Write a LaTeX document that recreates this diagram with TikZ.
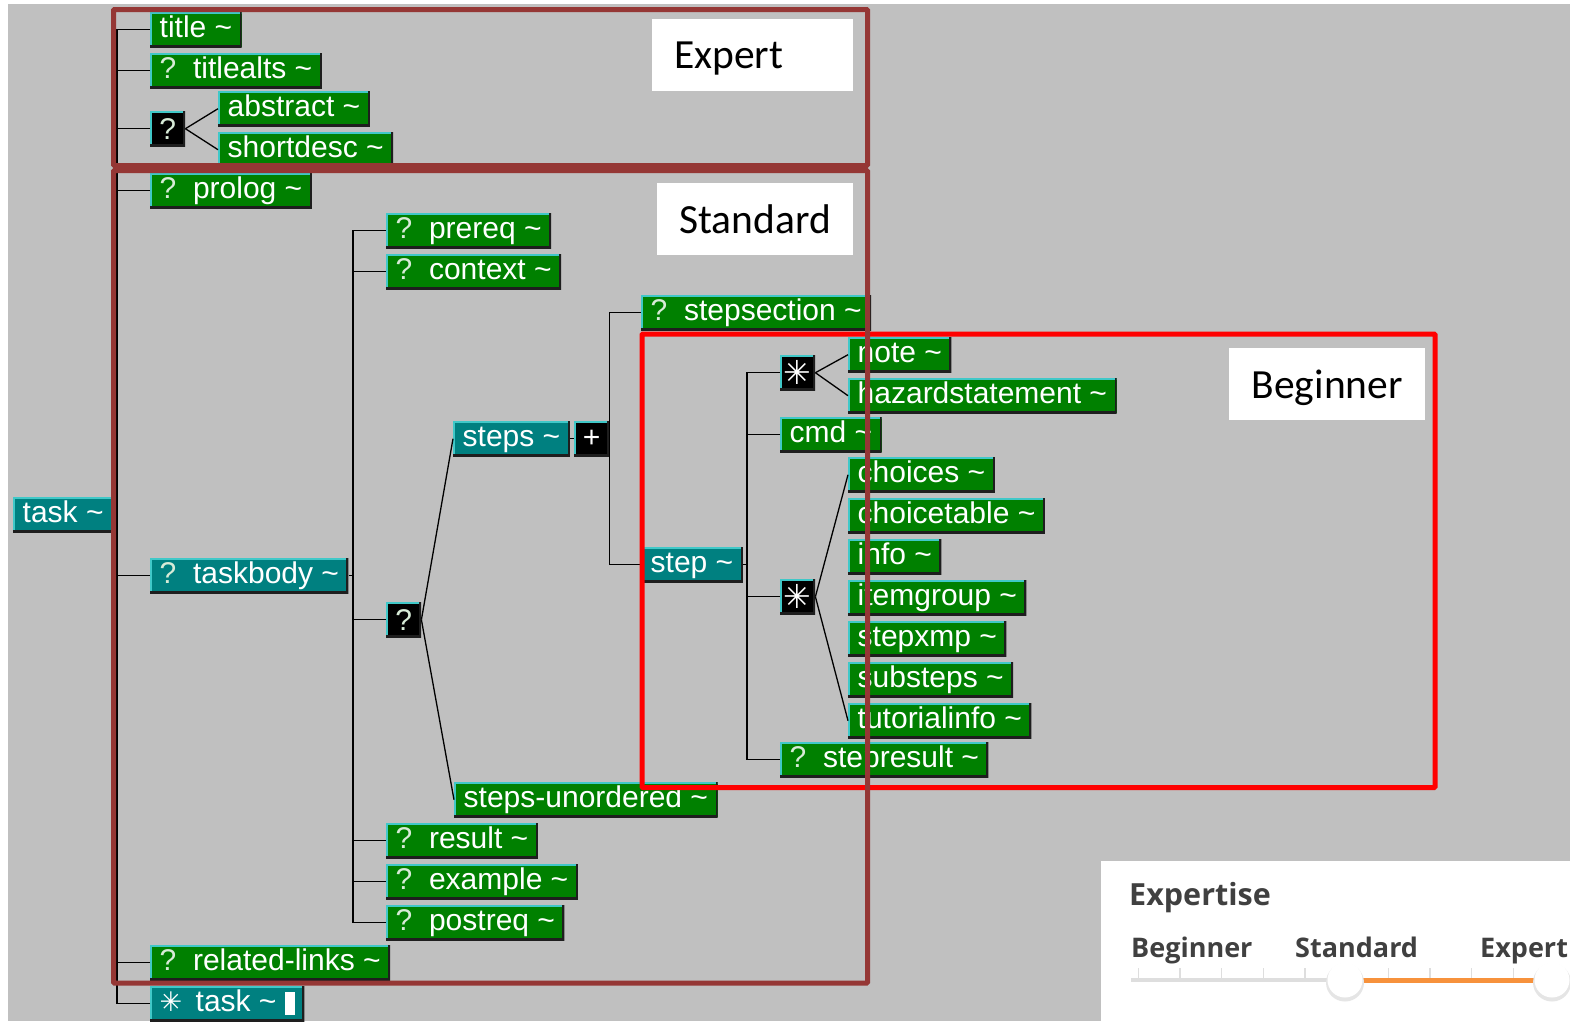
\documentclass[tikz,border=0pt]{standalone}
\usepackage{fontspec}
\setmainfont{Liberation Sans}
\newfontfamily\lblfont{Carlito}
\newfontfamily\panelfont{Open Sans}
\newfontfamily\symfont{DejaVu Sans}
\usetikzlibrary{positioning}

\definecolor{elgreen}{RGB}{0,128,0}
\definecolor{elteal}{RGB}{0,128,128}
\definecolor{canvas}{RGB}{192,192,192}
\definecolor{bevellight}{RGB}{64,200,200}
\definecolor{beveldark}{RGB}{30,30,30}
\definecolor{optq}{RGB}{215,235,215}
\definecolor{expertcol}{RGB}{149,55,53}
\definecolor{panelgray}{RGB}{64,64,64}
\definecolor{slideorange}{RGB}{247,146,60}
\definecolor{trackgray}{RGB}{222,222,222}

\newcommand\tld{\textasciitilde}
\newcommand\optmark{\textcolor{optq}{?}\ \ }
\newcommand\anymark[1][33pt]{{\symfont\fontsize{#1}{#1}\selectfont ✳}}

\tikzstyle{bevel}=[path picture={
        \draw[bevellight, line width=3pt] (path picture bounding box.south west)
          |- (path picture bounding box.north east);
        \draw[beveldark, line width=4pt] (path picture bounding box.south west)
          -| (path picture bounding box.north east);}]
\tikzstyle{elem}=[rectangle, bevel, fill=elgreen, text=white, anchor=north west,
        font=\fontsize{30pt}{31pt}\selectfont, inner xsep=9.5pt, inner ysep=3pt,
        text height=22pt, text depth=7pt]
\tikzstyle{group}=[elem, fill=elteal]
\tikzstyle{choice}=[rectangle, bevel, fill=black, text=white, anchor=north west,
        font=\fontsize{30pt}{31pt}\selectfont, minimum width=35pt, minimum height=35pt,
        inner sep=0pt]
\tikzstyle{branch}=[draw=black, line width=1.3pt]
\tikzstyle{levelframe}=[draw=expertcol, line width=5pt, rounded corners=1pt]
\tikzstyle{levellabel}=[fill=white, anchor=north west, inner sep=0pt,
        font=\lblfont\fontsize{41.5pt}{48pt}\selectfont, minimum height=72pt,
        text depth=0pt]
\tikzstyle{paneltext}=[anchor=base west, inner sep=0pt, text=panelgray,
        font=\panelfont\bfseries\fontsize{27pt}{30pt}\selectfont]

\begin{document}
\begin{tikzpicture}[x=1pt, y=-1pt]
        \useasboundingbox (0,0) rectangle (1570,1021);
        \fill[canvas] (8,4) rectangle (1570,1021);

        % root and its children
        \node (task) [group] at (13,497) {task \tld};
        \node (title) [elem] at (150,12) {title \tld};
        \node (titlealts) [elem, below right=5.6pt and 0pt of title.south west] {\optmark titlealts \tld};
        \node (absopt) [choice] at (150,111) {\textcolor{optq}{?}};
        \node (abstract) [elem] at (218,91) {abstract \tld};
        \node (shortdesc) [elem, below right=5.6pt and 0pt of abstract.south west] {shortdesc \tld};
        \node (prolog) [elem] at (150,173) {\optmark prolog \tld};
        \node (taskbody) [group] at (150,558) {\optmark taskbody \tld};
        \node (links) [elem] at (150,945) {\optmark related-links \tld};
        \node (subtask) [group, below right=5.6pt and 0pt of links.south west]
          {\anymark[27pt]\ \,task \tld\ \rule[-4pt]{10pt}{23pt}};

        % taskbody content
        \node (prereq) [elem] at (386,213) {\optmark prereq \tld};
        \node (context) [elem, below right=5.6pt and 0pt of prereq.south west] {\optmark context \tld};
        \node (stepsopt) [choice] at (386,602) {\textcolor{optq}{?}};
        \node (steps) [group] at (453,421) {steps \tld};
        \node (stepsplus) [choice] at (574,421) {+};
        \node (stepsu) [elem] at (454,782) {steps-unordered \tld};
        \node (result) [elem] at (386,823) {\optmark result \tld};
        \node (example) [elem, below right=5.6pt and 0pt of result.south west] {\optmark example \tld};
        \node (postreq) [elem, below right=5.6pt and 0pt of example.south west] {\optmark postreq \tld};

        % steps
        \node (stepsection) [elem] at (641,295) {\optmark stepsection \tld};
        \node (step) [group] at (641,547) {step \tld};
        \node (infoany) [choice] at (780,355) {\anymark};
        \node (note) [elem] at (848,337) {note \tld};
        \node (hazard) [elem, below right=5.6pt and 0pt of note.south west] {hazardstatement \tld};
        \node (cmd) [elem] at (780,417) {cmd \tld};
        \node (extraany) [choice] at (780,579) {\anymark};
        \node (choices) [elem] at (848,457) {choices \tld};
        \node (choicetable) [elem, below right=5.6pt and 0pt of choices.south west] {choicetable \tld};
        \node (info) [elem, below right=5.6pt and 0pt of choicetable.south west] {info \tld};
        \node (itemgroup) [elem, below right=5.6pt and 0pt of info.south west] {itemgroup \tld};
        \node (stepxmp) [elem, below right=5.6pt and 0pt of itemgroup.south west] {stepxmp \tld};
        \node (substeps) [elem, below right=5.6pt and 0pt of stepxmp.south west] {substeps \tld};
        \node (tutorialinfo) [elem, below right=5.6pt and 0pt of substeps.south west] {tutorialinfo \tld};
        \node (stepresult) [elem] at (780,742) {\optmark stepresult \tld};

        % tree lines
        \coordinate (taskfork) at ([xshift=-33pt]title.west |- task.east);
        \draw[branch] (task.east) -- (taskfork);
        \foreach \kid in {title,titlealts,absopt,prolog,taskbody,links,subtask}
          \draw[branch] (\kid.west) -| (taskfork);
        \draw[branch] (absopt.east) -- (abstract.west);
        \draw[branch] (absopt.east) -- (shortdesc.west);

        \coordinate (bodyfork) at ([xshift=-33pt]prereq.west |- taskbody.east);
        \draw[branch] (taskbody.east) -- (bodyfork);
        \foreach \kid in {prereq,context,stepsopt,result,example,postreq}
          \draw[branch] (\kid.west) -| (bodyfork);
        \draw[branch] (stepsopt.east) -- (steps.west);
        \draw[branch] (stepsopt.east) -- (stepsu.west);

        \draw[branch] (steps.east) -- (stepsplus.west);
        \draw[branch] (stepsection.west) -| (stepsplus.east);
        \draw[branch] (step.west) -| (stepsplus.east);

        \coordinate (stepfork) at ([xshift=-33pt]cmd.west |- step.east);
        \draw[branch] (step.east) -- (stepfork);
        \foreach \kid in {infoany,cmd,extraany,stepresult}
          \draw[branch] (\kid.west) -| (stepfork);
        \draw[branch] (infoany.east) -- (note.west);
        \draw[branch] (infoany.east) -- (hazard.west);
        \draw[branch] (extraany.east) -- (choices.west);
        \draw[branch] (extraany.east) -- (tutorialinfo.west);

        % expertise levels
        \draw[levelframe, draw=red] (642,334) rectangle (1435,787.5);
        \draw[levelframe] (113.5,9.5) rectangle (867.5,165.5);
        \draw[levelframe] (113.5,170.5) rectangle (867.5,983);
        \node (expertlbl) [levellabel, text width=157pt, align=left, inner xsep=22pt] at (652,19) {Expert};
        \node (standardlbl) [levellabel, minimum width=196pt] at (657,183) {Standard};
        \node (beginnerlbl) [levellabel, minimum width=196pt] at (1229,348) {Beginner};

        % expertise slider
        \fill[white] (1101,861) rectangle (1570,1021);
        \node (expertise) [paneltext, font=\panelfont\bfseries\fontsize{30.5pt}{32pt}\selectfont] at (1129,905) {Expertise};
        \node (lowstop) [paneltext] at (1131,957) {Beginner};
        \node (midstop) [paneltext] at (1295,957) {Standard};
        \node (highstop) [paneltext] at (1480,957) {Expert};
        \draw[trackgray, line width=4pt] (1131,980) -- (1345,980);
        \foreach \t in {0,...,10}
          \draw[trackgray, line width=1.3pt] ({1138.3+41.67*\t},968) -- ++(0,11);
        \draw[slideorange, line width=5pt] (1345,980) -- (1552,980);
        \foreach \k in {1345,1552} {
          \fill[black!10] (\k,982.5) circle (19pt);
          \fill[white] (\k,980) circle (17.5pt);
        }
\end{tikzpicture}
\end{document}
